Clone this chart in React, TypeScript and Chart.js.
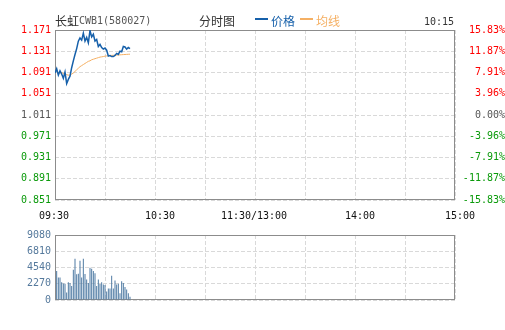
import React, { useEffect, useRef } from "react";
import { Chart, registerables } from "chart.js";

Chart.register(...registerables);

// ---- data ----
const prevClose = 1.011;
const priceMin = 0.851;
const priceMax = 1.171;
const priceTicks = [0.851, 0.891, 0.931, 0.971, 1.011, 1.051, 1.091, 1.131, 1.171];

// one value per minute from 09:30 (minute 0) to 10:15 (minute 45)
const price = [
  1.090, 1.098, 1.086, 1.094, 1.088, 1.080, 1.092, 1.070, 1.078, 1.084,
  1.100, 1.113, 1.125, 1.136, 1.150, 1.156, 1.152, 1.165, 1.150, 1.157,
  1.147, 1.170, 1.158, 1.163, 1.150, 1.153, 1.140, 1.144, 1.138, 1.135,
  1.137, 1.133, 1.122, 1.123, 1.121, 1.121, 1.123, 1.127, 1.125, 1.131,
  1.130, 1.140, 1.139, 1.135, 1.138, 1.136,
];
const avgPrice = [
  1.090, 1.093, 1.091, 1.092, 1.091, 1.089, 1.089, 1.087, 1.086, 1.086,
  1.088, 1.090, 1.093, 1.096, 1.099, 1.102, 1.104, 1.106, 1.108, 1.110,
  1.112, 1.113, 1.115, 1.116, 1.117, 1.118, 1.119, 1.120, 1.1205, 1.121,
  1.1218, 1.1222, 1.1226, 1.123, 1.1232, 1.1234, 1.1236, 1.1238, 1.124, 1.1242,
  1.1245, 1.1247, 1.1249, 1.1251, 1.1253, 1.1255,
];
// volume per minute, minutes 1..45
const volume = [
  4060, 3140, 3140, 2490, 2310, 2270, 1050, 2490, 2360, 1960,
  4230, 5760, 3580, 3670, 5500, 3140, 5760, 3620, 2880, 2360,
  4500, 4370, 4060, 3750, 1960, 2880, 2230, 2490, 2180, 2100,
  1180, 1620, 1620, 3400, 1620, 2710, 2180, 2270, 960, 2620,
  2360, 1830, 1480, 960, 440,
];
const volumeTicks = [0, 2270, 4540, 6810, 9080];
const totalMinutes = 240;
const timeTickMinutes = [0, 60, 120, 180, 240];
const timeLabels = ["09:30", "10:30", "11:30/13:00", "14:00", "15:00"];

const titleName = "长虹CWB1(580027)";
const chartKind = "分时图";
const legendPriceLabel = "价格";
const legendAvgLabel = "均线";
const currentTime = "10:15";

// ---- styles ----
const MONO = "'DejaVu Sans Mono', 'Liberation Mono', monospace";
const CJK = "'Noto Sans CJK SC', 'Noto Sans', sans-serif";
const MONO_FONT = { family: MONO, size: 10 };
const BLUE = "#1660aa";
const ORANGE = "#f5b064";
const RED = "#ff0000";
const GREEN = "#0a9a0a";
const GRAY = "#555555";
const GRID = "#d9d9d9";
const BORDER = "#8c8c8c";
const VOL_BAR = "#4f7ba3";
const VOL_TEXT = "#55799c";

function isCJK(ch: string) {
  return /[\u3000-\u9fff\uff00-\uffef]/.test(ch);
}

function drawMixed(
  ctx: CanvasRenderingContext2D,
  text: string,
  x: number,
  y: number,
  cjkColor: string,
  asciiColor: string,
  align: "left" | "right" = "left"
) {
  const runs: { t: string; cjk: boolean }[] = [];
  for (const ch of text) {
    const c = isCJK(ch);
    if (runs.length && runs[runs.length - 1].cjk === c) runs[runs.length - 1].t += ch;
    else runs.push({ t: ch, cjk: c });
  }
  const fontFor = (c: boolean) => (c ? `12px ${CJK}` : `10px ${MONO}`);
  let total = 0;
  for (const r of runs) {
    ctx.font = fontFor(r.cjk);
    total += ctx.measureText(r.t).width;
  }
  let cx = align === "right" ? x - total : x;
  ctx.textAlign = "left";
  ctx.textBaseline = "middle";
  for (const r of runs) {
    ctx.font = fontFor(r.cjk);
    ctx.fillStyle = r.cjk ? cjkColor : asciiColor;
    ctx.fillText(r.t, cx, y);
    cx += ctx.measureText(r.t).width;
  }
}

function borderBox(chart: any) {
  const { ctx, chartArea } = chart;
  const l = Math.round(chartArea.left) + 0.5;
  const t = Math.round(chartArea.top) + 0.5;
  const r = Math.round(chartArea.right) - 0.5;
  const b = Math.round(chartArea.bottom) - 0.5;
  ctx.save();
  ctx.strokeStyle = BORDER;
  ctx.lineWidth = 1;
  ctx.setLineDash([]);
  ctx.strokeRect(l, t, r - l, b - t);
  ctx.restore();
}

const mainDecor = {
  id: "mainDecor",
  beforeDatasetsDraw(chart: any) {
    borderBox(chart);
  },
  afterDraw(chart: any) {
    const { ctx, chartArea, scales } = chart;
    ctx.save();
    // title
    drawMixed(ctx, titleName, chartArea.left, 21, "#333333", "#555555");
    drawMixed(ctx, chartKind, 199, 21, "#333333", "#333333");
    // legend
    ctx.fillStyle = BLUE;
    ctx.fillRect(255, 18, 13, 2);
    drawMixed(ctx, legendPriceLabel, 271, 21, BLUE, BLUE);
    ctx.fillStyle = ORANGE;
    ctx.fillRect(300, 18, 13, 2);
    drawMixed(ctx, legendAvgLabel, 316, 21, ORANGE, ORANGE);
    drawMixed(ctx, currentTime, chartArea.right - 1, 22, "#333333", "#333333", "right");
    // time axis labels
    const nudges = [-1, 5, -1, 5, 5];
    ctx.font = `10px ${MONO}`;
    ctx.fillStyle = "#111111";
    ctx.textAlign = "center";
    ctx.textBaseline = "middle";
    timeTickMinutes.forEach((m, i) => {
      const px = scales.x.getPixelForValue(m) + nudges[i];
      ctx.fillText(timeLabels[i], px, 216.5);
    });
    ctx.restore();
  },
};

const volDecor = {
  id: "volDecor",
  beforeDatasetsDraw(chart: any) {
    borderBox(chart);
  },
};

function pctLabel(v: number) {
  return (((v - prevClose) / prevClose) * 100).toFixed(2) + "%";
}

function tickColor(ctx: any) {
  const v = ctx.tick ? ctx.tick.value : prevClose;
  if (v > prevClose + 1e-6) return RED;
  if (v < prevClose - 1e-6) return GREEN;
  return GRAY;
}

export default function App() {
  const mainRef = useRef<HTMLCanvasElement>(null);
  const volRef = useRef<HTMLCanvasElement>(null);

  useEffect(() => {
    const gridCommon = {
      color: GRID,
      lineWidth: 1,
      drawTicks: false,
    };
    const borderCommon = { display: false, dash: [4, 2] };

    const main = new Chart(mainRef.current!, {
      type: "line",
      data: {
        datasets: [
          {
            data: price.map((v, i) => ({ x: i, y: v })),
            borderColor: BLUE,
            borderWidth: 1.5,
            pointRadius: 0,
            tension: 0,
            order: 0,
          },
          {
            data: avgPrice.map((v, i) => ({ x: i, y: v })),
            borderColor: ORANGE,
            borderWidth: 1,
            pointRadius: 0,
            tension: 0,
            order: 1,
          },
        ],
      },
      options: {
        animation: false,
        responsive: false,
        maintainAspectRatio: false,
        layout: { padding: { top: 30, bottom: 25, left: 0, right: 0 } },
        plugins: { legend: { display: false }, tooltip: { enabled: false } },
        scales: {
          x: {
            type: "linear",
            min: 0,
            max: totalMinutes,
            ticks: { display: false, stepSize: 30 },
            grid: gridCommon,
            border: borderCommon,
            afterFit: (s: any) => {
              s.height = 0;
            },
          },
          y: {
            position: "left",
            min: priceMin,
            max: priceMax,
            afterBuildTicks: (s: any) => {
              s.ticks = priceTicks.map((v) => ({ value: v }));
            },
            ticks: {
              font: MONO_FONT,
              color: tickColor,
              padding: 4,
              callback: (v: any) => Number(v).toFixed(3),
            },
            grid: gridCommon,
            border: borderCommon,
            afterFit: (s: any) => {
              s.width = 55;
            },
          },
          y2: {
            position: "right",
            min: priceMin,
            max: priceMax,
            afterBuildTicks: (s: any) => {
              s.ticks = priceTicks.map((v) => ({ value: v }));
            },
            ticks: {
              font: MONO_FONT,
              color: tickColor,
              padding: 0,
              crossAlign: "far",
              callback: (v: any) => pctLabel(Number(v)),
            },
            grid: { display: false, drawTicks: false },
            border: { display: false },
            afterFit: (s: any) => {
              s.width = 50;
            },
          },
        },
      },
      plugins: [mainDecor],
    } as any);

    const vol = new Chart(volRef.current!, {
      type: "bar",
      data: {
        datasets: [
          {
            data: volume.map((v, i) => ({ x: i + 1, y: v })),
            backgroundColor: VOL_BAR,
            barThickness: 1,
            borderWidth: 0,
            inflateAmount: 0,
          },
        ],
      },
      options: {
        animation: false,
        responsive: false,
        maintainAspectRatio: false,
        layout: { padding: { top: 5, bottom: 30, left: 0, right: 50 } },
        plugins: { legend: { display: false }, tooltip: { enabled: false } },
        scales: {
          x: {
            type: "linear",
            min: 0,
            max: totalMinutes,
            offset: false,
            ticks: { display: false, stepSize: 30 },
            grid: { ...gridCommon, offset: false },
            border: borderCommon,
            afterFit: (s: any) => {
              s.height = 0;
            },
          },
          y: {
            position: "left",
            min: 0,
            max: volumeTicks[volumeTicks.length - 1],
            afterBuildTicks: (s: any) => {
              s.ticks = volumeTicks.map((v) => ({ value: v }));
            },
            ticks: {
              font: MONO_FONT,
              color: VOL_TEXT,
              padding: 4,
              callback: (v: any) => String(v),
            },
            grid: gridCommon,
            border: borderCommon,
            afterFit: (s: any) => {
              s.width = 55;
            },
          },
        },
      },
      plugins: [volDecor],
    } as any);

    return () => {
      main.destroy();
      vol.destroy();
    };
  }, []);

  return (
    <div
      style={{
        position: "absolute",
        left: 0,
        top: 0,
        width: 505,
        height: 330,
        background: "#ffffff",
      }}
    >
      <canvas
        ref={mainRef}
        width={505}
        height={225}
        style={{ position: "absolute", left: 0, top: 0, width: 505, height: 225 }}
      />
      <canvas
        ref={volRef}
        width={505}
        height={105}
        style={{ position: "absolute", left: 0, top: 225, width: 505, height: 105 }}
      />
    </div>
  );
}
